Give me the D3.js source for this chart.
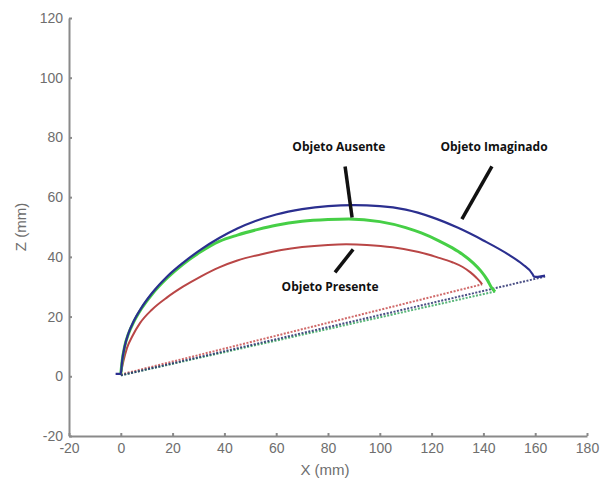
<!DOCTYPE html>
<html>
<head>
<meta charset="utf-8">
<script src="https://cdn.jsdelivr.net/npm/d3@7"></script>
<style>
  body { margin: 0; background: #fff; }
  .axis path, .axis line { stroke: #8a8a8a; stroke-width: 2px; }
  .axis text { fill: #6e6e6e; font-family: "Liberation Sans", Arial, sans-serif; font-size: 14px; }
  .note { font-family: "Open Sans", sans-serif; font-weight: bold; font-size: 12px; fill: #111; }
</style>
</head>
<body>
<div class="chart"></div>
<script>
// values (mm)
var imaginadoX = [-2, 0, 0.5, 1.5, 3, 5, 8, 12, 18, 24, 31, 38, 45, 52, 60, 70, 80, 90, 100, 110, 120, 130, 140, 150, 155, 159, 159.5, 161, 163.8];
var imaginadoZ = [0.8, 0.8, 5, 10, 14.5, 18.5, 23, 27.8, 33.5, 38, 42.5, 46.3, 49.5, 52, 54.2, 56, 57, 57.3, 57, 55.8, 53.3, 49.8, 45.5, 40.6, 37.6, 34.2, 33.4, 33.3, 33.7];

var ausenteX = [0, 0.5, 1.5, 3, 5, 8, 12, 18, 24, 31, 38, 45, 53, 60, 70, 80, 88, 100, 110, 116, 123, 128, 132, 136, 139, 141.5, 143.3, 144.5];
var ausenteZ = [0.8, 5, 10, 14.3, 18.2, 22.7, 27.4, 33, 37.5, 41.8, 45.2, 47.3, 49.2, 50.6, 51.9, 52.5, 52.7, 51.8, 49.8, 48, 45.3, 43, 40.8, 38, 35.3, 32.3, 29.5, 28.3];

var presenteX = [0, 1, 2.4, 4.5, 7.4, 12, 18, 24, 31, 38, 45, 54, 62, 70, 80, 87, 95, 105, 115, 122, 128, 132, 135, 137.3, 138.8, 139.5];
var presenteZ = [0.8, 5, 9.5, 13.5, 17.8, 22.3, 26.5, 30, 33.5, 36.5, 38.8, 40.8, 42.3, 43.3, 44, 44.2, 44, 43.2, 41.6, 39.9, 38.2, 36.6, 34.8, 33, 31.6, 30.8];

// straight return lines (start / end of each trace)
var imaginadoBaseX = [0, 163.8], imaginadoBaseZ = [0.3, 33.4];
var ausenteBaseX = [0, 144.5], ausenteBaseZ = [0.3, 28.4];
var presenteBaseX = [0, 139.5], presenteBaseZ = [0.6, 30.8];

var xTicks = [-20, 0, 20, 40, 60, 80, 100, 120, 140, 160, 180];
var zTicks = [-20, 0, 20, 40, 60, 80, 100, 120];

// annotation labels: text, label anchor, pointer start, pointer end (mm)
var noteText = ["Objeto Ausente", "Objeto Imaginado", "Objeto Presente"];
var noteLabel = [[84.2, 76.7], [144.1, 76.7], [80.8, 30.1]];
var notePtrA = [[86.6, 70.3], [143.3, 70.3], [89.7, 42.5]];
var notePtrB = [[89.3, 53.2], [131.7, 52.6], [82.7, 34.8]];

var width = 600, height = 483;
var margin = {top: 18, right: 13, bottom: 47, left: 69};

var svg = d3.select(".chart").append("svg")
    .attr("width", width)
    .attr("height", height);

var x = d3.scaleLinear()
    .domain([-20, 180])
    .range([margin.left, width - margin.right]);

var z = d3.scaleLinear()
    .domain([-20, 120])
    .range([height - margin.bottom, margin.top]);

var plain = function(d) { return String(d); };

svg.append("g")
    .attr("class", "axis")
    .attr("transform", "translate(0," + (height - margin.bottom) + ")")
    .call(d3.axisBottom(x).tickValues(xTicks).tickFormat(plain)
      .tickSize(-3).tickSizeOuter(0).tickPadding(7));

svg.append("g")
    .attr("class", "axis")
    .attr("transform", "translate(" + margin.left + ",0)")
    .call(d3.axisLeft(z).tickValues(zTicks).tickFormat(plain)
      .tickSize(-3).tickSizeOuter(0).tickPadding(6));

svg.append("text")
    .attr("x", 325)
    .attr("y", 475)
    .attr("text-anchor", "middle")
    .style("font-family", "Liberation Sans, Arial, sans-serif")
    .style("font-size", "15px")
    .style("fill", "#6e6e6e")
    .text("X (mm)");

svg.append("text")
    .attr("transform", "translate(26,227) rotate(-90)")
    .attr("text-anchor", "middle")
    .style("font-family", "Liberation Sans, Arial, sans-serif")
    .style("font-size", "15px")
    .style("fill", "#6e6e6e")
    .text("Z (mm)");

var line = d3.line()
    .x(function(d) { return x(d[0]); })
    .y(function(d) { return z(d[1]); })
    .curve(d3.curveMonotoneX);

function pts(xs, zs) {
  return xs.map(function(v, i) { return [v, zs[i]]; });
}

// dotted return lines first
var bases = [
  {p: pts(presenteBaseX, presenteBaseZ), c: "#c85050"},
  {p: pts(ausenteBaseX, ausenteBaseZ), c: "#3aa860"},
  {p: pts(imaginadoBaseX, imaginadoBaseZ), c: "#2a3070"}
];
bases.forEach(function(b) {
  svg.append("path")
      .attr("d", line(b.p))
      .style("fill", "none")
      .style("stroke", b.c)
      .style("stroke-width", 2)
      .style("stroke-dasharray", "2,1.5")
      .style("opacity", 0.85);
});

svg.append("path")
    .attr("d", line(pts(presenteX, presenteZ)))
    .style("fill", "none")
    .style("stroke", "#b94646")
    .style("stroke-width", 2);

svg.append("path")
    .attr("d", line(pts(ausenteX, ausenteZ)))
    .style("fill", "none")
    .style("stroke", "#46cf46")
    .style("stroke-width", 3);

svg.append("path")
    .attr("d", line(pts(imaginadoX, imaginadoZ)))
    .style("fill", "none")
    .style("stroke", "#2b2f8f")
    .style("stroke-width", 2.2);

// pointers + labels
noteText.forEach(function(t, i) {
  svg.append("line")
      .attr("x1", x(notePtrA[i][0]))
      .attr("y1", z(notePtrA[i][1]))
      .attr("x2", x(notePtrB[i][0]))
      .attr("y2", z(notePtrB[i][1]))
      .style("stroke", "#111")
      .style("stroke-width", 3.5);
  svg.append("text")
      .attr("class", "note")
      .attr("x", x(noteLabel[i][0]))
      .attr("y", z(noteLabel[i][1]))
      .attr("dy", "0.35em")
      .attr("text-anchor", "middle")
      .text(t);
});
</script>
</body>
</html>
